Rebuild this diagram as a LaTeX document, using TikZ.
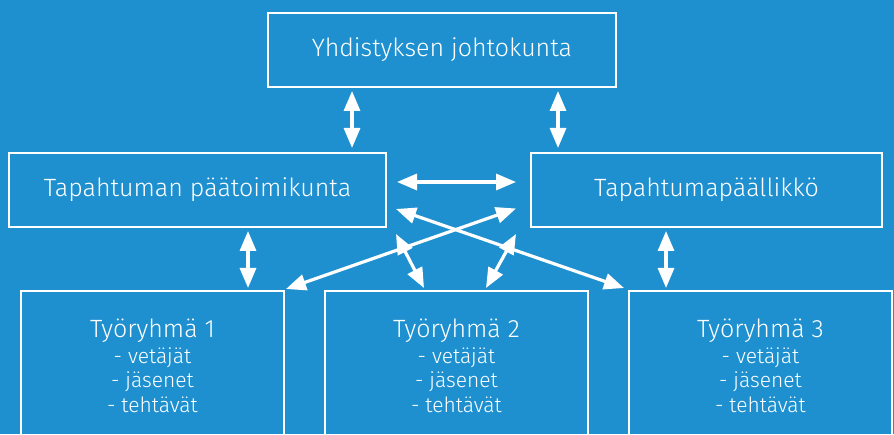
\documentclass[tikz,border=0pt]{standalone}
\usepackage{fontspec}
\setmainfont{Fira Sans}[UprightFont=* Light]
\usetikzlibrary{positioning, calc}
\usetikzlibrary{arrows.meta}
\definecolor{bgblue}{RGB}{30,144,208}

\begin{document}
\begin{tikzpicture}[x=0.5pt,y=0.5pt,text=white]
	\def \boxh{37pt}
	\tikzstyle{box}=[rectangle,draw=white,line width=1pt,minimum height=\boxh,inner sep=0pt,font=\fontsize{12.5}{15}\selectfont]
	\tikzstyle{group}=[box,minimum width=131.5pt,minimum height=74.5pt,align=center,font=\fontsize{10.5}{12.3}\selectfont]
	\tikzstyle{arr}=[{Triangle[length=10pt,width=8pt]}-{Triangle[length=10pt,width=8pt]},line width=1.6pt,draw=white]
	% background
	\fill[bgblue] (0,0) rectangle (894,434);
	\clip (0,0) rectangle (894,434);

	% boards
	\node[box,minimum width=174pt] 	(board)	at (442,384)	{Yhdistyksen johtokunta};
	\node[box,minimum width=188.5pt] 	(committee)	at (197.5,244)	{Tapahtuman päätoimikunta};
	\node[box,minimum width=175.5pt] 	(manager)	at (706.5,244)	{Tapahtumapäällikkö};

	% working groups
	\node[group] 	(wg1)	at (152.5,68.5)	{{\fontsize{12.5}{15}\selectfont Työryhmä 1}\\[0.7pt] - vetäjät\\ - jäsenet\\ - tehtävät};
	\node[group] 	(wg2)	at (456.5,68.5)	{{\fontsize{12.5}{15}\selectfont Työryhmä 2}\\[0.7pt] - vetäjät\\ - jäsenet\\ - tehtävät};
	\node[group] 	(wg3)	at (760.5,68.5)	{{\fontsize{12.5}{15}\selectfont Työryhmä 3}\\[0.7pt] - vetäjät\\ - jäsenet\\ - tehtävät};

	% arrows between boards
	\draw[arr] ($(board.south)+(-90,-3)$) -- ($(board.south |- committee.north)+(-90,4)$);
	\draw[arr] ($(board.south)+(116,-3)$) -- ($(board.south |- manager.north)+(116,4)$);
	\draw[arr] ($(committee.east)+(10,8)$) -- ($(committee.east -| manager.west)+(-14,8)$);

	% arrows to working groups
	\draw[arr] ($(committee.south)+(50.5,-3)$) -- ($(committee.south |- wg1.north)+(50.5,2)$);
	\draw[arr] ($(manager.south)+(-40.5,-3)$) -- ($(manager.south |- wg3.north)+(-40.5,2)$);
	\draw[arr] ($(committee.south east)+(9,19)$) -- ($(wg3.north west)+(-4,2)$);
	\draw[arr] ($(manager.south west)+(-14,19.5)$) -- ($(wg1.north east)+(1,1)$);
	\draw[arr] ($(committee.south east)+(9,-6)$) -- ($(wg2.north west)+(100,2)$);
	\draw[arr] ($(manager.south west)+(-14,-6)$) -- ($(wg2.north east)+(-103,2)$);
\end{tikzpicture}
\end{document}
